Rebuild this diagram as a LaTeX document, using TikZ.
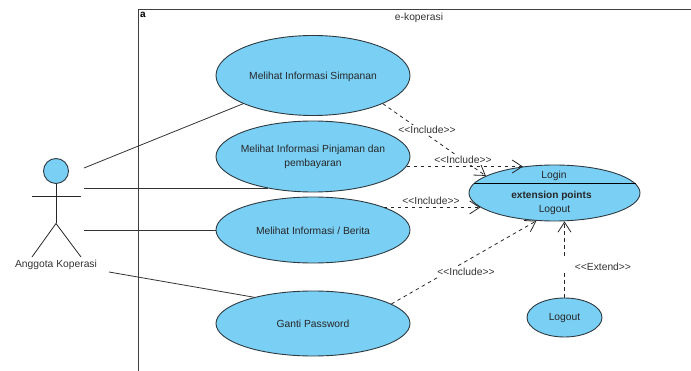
\documentclass[tikz,border=0pt]{standalone}
\usepackage{fontspec}
\setmainfont{Liberation Sans}
\usetikzlibrary{shapes.geometric,arrows.meta}
\definecolor{ucfill}{HTML}{7ACFF5}
\definecolor{ucline}{HTML}{2E3A40}
\definecolor{lbl}{HTML}{333333}
\newcommand{\uctext}[2][-4.2pt]{\raisebox{#1}[0pt][0pt]{\makebox[0pt]{#2}}}
\tikzset{
  usecase/.style={ellipse,draw=ucline,fill=ucfill,line width=0.9pt,inner sep=0pt,font=\fontsize{10.3}{14}\selectfont,align=center,text=black!85},
  assoc/.style={draw=black!80,line width=0.8pt},
  dep/.style={draw=black!85,line width=0.8pt,dash pattern=on 3.5pt off 3.5pt,-{Straight Barb[length=10pt,width=13pt,line width=0.8pt]}},
  deplabel/.style={fill=white,inner sep=1pt,text=lbl,font=\fontsize{10.3}{12}\selectfont},
  stick/.style={draw=black!85,line width=0.8pt},
  plainlabel/.style={inner sep=0pt,text=lbl,font=\fontsize{10.3}{12}\selectfont},
}
\begin{document}
\begin{tikzpicture}[x=1pt,y=-1pt]
\useasboundingbox (0,0) rectangle (691,371);
% system frame
\draw[line width=0.9pt,draw=black!75] (138,371) -- (138,9.5) -- (691,9.5);
\node[inner sep=0pt,font=\bfseries\fontsize{10}{12}\selectfont] (sysid) at (143,15) {a};
\node[plainlabel] (sysname) at (419,17.5) {e-koperasi};
% actor
\node[circle,draw=ucline,fill=ucfill,line width=0.9pt,minimum size=25pt,inner sep=0pt] (head) at (56,171) {};
\coordinate (hip) at (56,223.5);
\draw[stick] (head.south) -- (hip);
\draw[stick] (32,196) -- (81,196);
\draw[stick] (32,257) -- (hip) -- (81,257);
\node[plainlabel] (actor) at (56,264.5) {Anggota Koperasi};
% use cases
\node[usecase,minimum width=194pt,minimum height=80pt] (uc1) at (313,75.5) {\uctext{Melihat Informasi Simpanan}};
\node[usecase,minimum width=194pt,minimum height=71pt] (uc2) at (313,156.5) {\uctext[-3.2pt]{Melihat Informasi Pinjaman dan}\\\uctext[-3.2pt]{pembayaran}};
\node[usecase,minimum width=194pt,minimum height=66pt] (uc3) at (313,230) {\uctext{Melihat Informasi / Berita}};
\node[usecase,minimum width=194pt,minimum height=65pt] (uc4) at (313,323.5) {\uctext{Ganti Password}};
\node[usecase,minimum width=171pt,minimum height=56pt] (login) at (554.5,193) {};
\node[usecase,minimum width=75pt,minimum height=39pt] (logout) at (564.5,317.5) {\uctext[-3.5pt]{Logout}};
\draw[draw=black,line width=0.8pt] (login.173.3) -- (login.173.3 -| login.6.7);
\node[inner sep=0pt,font=\fontsize{10.3}{12}\selectfont,text=black!85] (t1) at (554,175.7) {Login};
\node[inner sep=0pt,font=\bfseries\fontsize{10.1}{12}\selectfont,text=black!85] (t2) at (551.5,195.7) {extension points};
\node[inner sep=0pt,font=\fontsize{10.3}{12}\selectfont,text=black!85] (t3) at (554.5,209.7) {Logout};
% associations
\coordinate (a1) at (84,168);
\coordinate (a2) at (84,188);
\coordinate (a3) at (84,230);
\coordinate (a4) at (109,272);
\draw[assoc] (a1) -- (uc1.202.7);
\draw[assoc] (a2) -- (a2 -| uc2.215);
\draw[assoc] (a3) -- (uc3.west);
\draw[assoc] (a4) -- (uc4.156.2);
% dependencies
\draw[dep] (uc1.-22.4) -- (login.166.8);
\draw[dep] (uc2.-6.4 |- login.140.5) -- (login.140.5);
\draw[dep] (uc3.18 |- login.191) -- (login.191);
\draw[dep] (uc4.14.9) -- (login.237);
\draw[dep] (logout.north) -- (logout.north |- login.south);
\node[deplabel] (l1) at (427,130) {<{}<Include>{}>};
\node[deplabel] (l2) at (463,160) {<{}<Include>{}>};
\node[deplabel] (l3) at (431,201) {<{}<Include>{}>};
\node[deplabel] (l4) at (466,272) {<{}<Include>{}>};
\node[deplabel,text width=70pt,align=right,minimum height=14pt,inner sep=0pt] (l5) at (596,265) {\raisebox{-5.7pt}[0pt][0pt]{<{}<Extend>{}>}};
\end{tikzpicture}
\end{document}
